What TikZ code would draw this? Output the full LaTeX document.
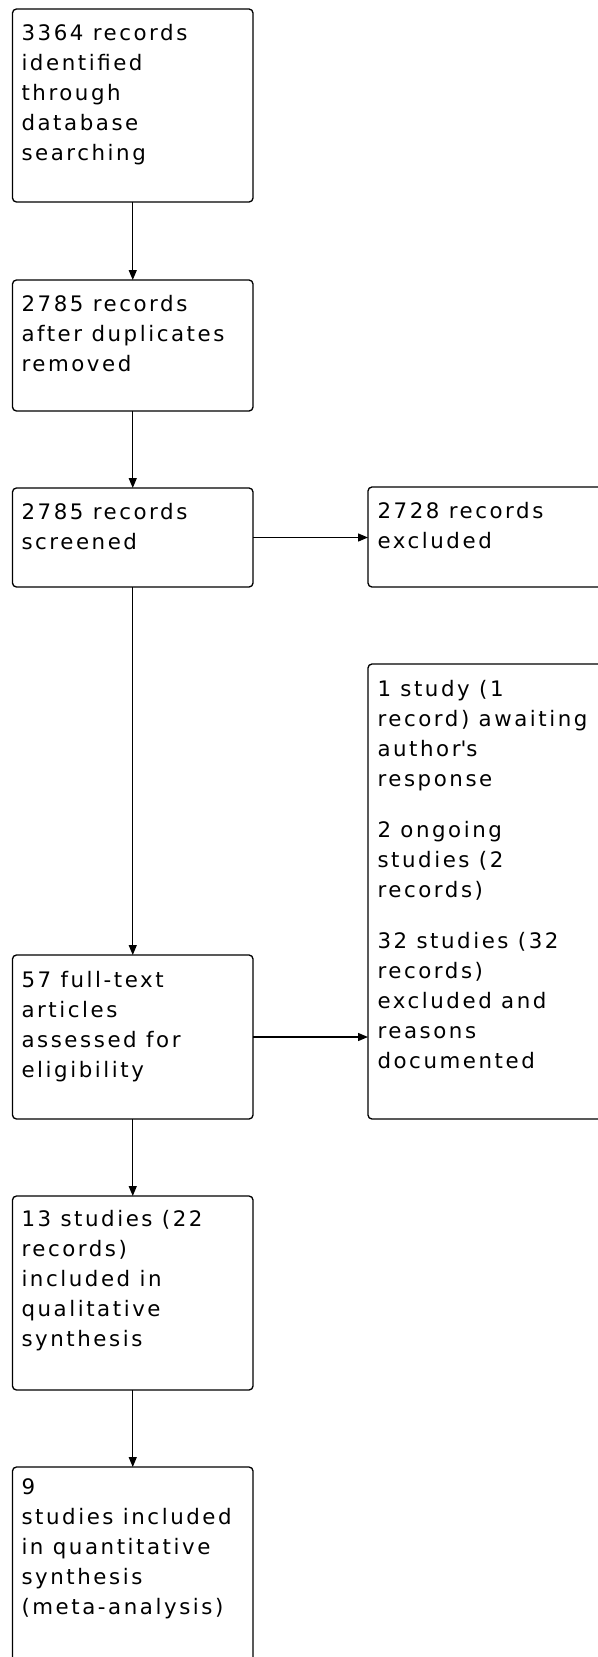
\documentclass[tikz,border=0pt]{standalone}
\usepackage{fontspec}
\setmainfont{DejaVu Sans}[LetterSpace=12]
\usetikzlibrary{arrows.meta}
\newcommand\flowfs{\fontsize{16pt}{22.5pt}\selectfont}
\newcommand\fst{\rule{0pt}{13pt}}
\begin{document}
\begin{tikzpicture}[x=0.75pt,y=-0.75pt,
  box/.style={draw, line width=1pt, rounded corners=3pt, inner sep=0pt, outer sep=0pt, anchor=north west},
  lbl/.style={anchor=north west, inner sep=0pt, outer sep=0pt, align=left, font=\flowfs},
  arr/.style={line width=1pt, -{Triangle[length=7.5pt,width=6pt]}}]
\path[use as bounding box, clip] (0,0) rectangle (598,1657);
\fill[white] (0,0) rectangle (598,1657);
% boxes
\node[box, minimum width=180.375pt, minimum height=144.75pt] (b1) at (12.5,9) {};
\node[box, minimum width=180.375pt, minimum height=98.25pt] (b2) at (12.5,280) {};
\node[box, minimum width=180.375pt, minimum height=74.25pt] (b3) at (12.5,488) {};
\node[box, minimum width=180.375pt, minimum height=123pt] (b4) at (12.5,955) {};
\node[box, minimum width=180.375pt, minimum height=145.5pt] (b5) at (12.5,1196) {};
\node[box, minimum width=180.375pt, minimum height=174.75pt] (b6) at (12.5,1467) {};
\node[box, minimum width=196.5pt, minimum height=75pt] (r1) at (368,487) {};
\node[box, minimum width=196.5pt, minimum height=341.25pt] (r2) at (368,664) {};
% texts
\node[lbl] (t1) at ([shift={(9,14)}]b1.north west) {\fst 3364 records\\identified\\through\\database\\searching};
\node[lbl] (t2) at ([shift={(9,14)}]b2.north west) {\fst 2785 records\\after duplicates\\removed};
\node[lbl] (t3) at ([shift={(9,14)}]b3.north west) {\fst 2785 records\\screened};
\node[lbl] (t4) at ([shift={(9,15)}]b4.north west) {\fst 57 full-text\\articles\\assessed for\\eligibility};
\node[lbl] (t5) at ([shift={(9,13.5)}]b5.north west) {\fst 13 studies (22\\records)\\included in\\qualitative\\synthesis};
\node[lbl] (t6) at ([shift={(9,10)}]b6.north west) {\fst 9\\studies included\\in quantitative\\synthesis\\(meta-analysis)};
\node[lbl] (t7) at ([shift={(9.5,14)}]r1.north west) {\fst 2728 records\\excluded};
\node[lbl] (t8) at ([shift={(9.5,15)}]r2.north west) {\fst 1 study (1\\record) awaiting\\author\textquotesingle s\\response\\[15.75pt]2 ongoing\\studies (2\\records)\\[15.75pt]32 studies (32\\records)\\excluded and\\reasons\\documented};
% connectors
\draw[arr] (b1.south) -- (b2.north);
\draw[arr] (b2.south) -- (b3.north);
\draw[arr] (b3.south) -- (b4.north);
\draw[arr] (b4.south) -- (b5.north);
\draw[arr] (b5.south) -- (b6.north);
\draw[arr] (b3.east) -- (b3.east -| r1.west);
\draw[arr] (b4.east) -- (b4.east -| r2.west);
\end{tikzpicture}
\end{document}
